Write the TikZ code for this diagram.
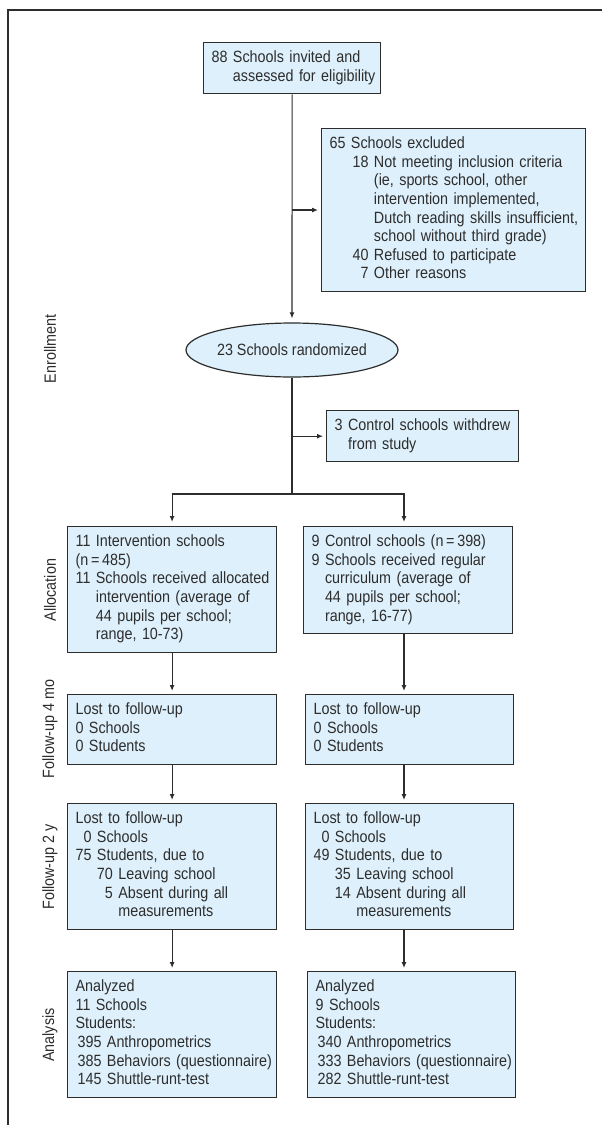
\documentclass[tikz,border=0pt]{standalone}
\usepackage{fontspec}
\setmainfont{Liberation Sans}[FakeStretch=0.88]
\usetikzlibrary{shapes.geometric,arrows.meta}
\definecolor{boxfill}{RGB}{222,240,251}
\definecolor{ink}{RGB}{45,45,45}
\tikzset{
    box/.style={draw=ink, fill=boxfill, line width=1.2pt, anchor=north west, inner xsep=8pt, inner ysep=7pt, align=left, text=ink},
    oval/.style={ellipse, draw=ink, fill=boxfill, line width=1.2pt, minimum width=185pt, minimum height=54pt, inner sep=0pt, text=ink},
    phase/.style={rotate=90, text=ink},
    link/.style={draw=ink, line width=1.1pt},
    arr/.style={link, -{Latex[length=6pt,width=5pt]}, shorten >=3pt},
}
\begin{document}
\begin{tikzpicture}[x=1pt, y=-1pt, font=\fontsize{16.3}{18.6}\selectfont]
        \useasboundingbox (0,0) rectangle (602,1125);
        \draw[ink, line width=1.4pt] (8,1125) -- (8,10) -- (602,10);

        % phases
        \node[phase] (enrol) at (50,349) {Enrollment};
        \node[phase] (alloc) at (50,590) {Allocation};
        \node[phase] (fourmo) at (50,729) {Follow-up 4 mo};
        \node[phase] (twoy) at (50,867) {Follow-up 2 y};
        \node[phase] (analysis) at (50,1035) {Analysis};

        % enrollment
        \node[box, text width=161pt] (invited) at (203,42) {\begin{tabular}{@{}r@{\ }l@{}}
            88 & Schools invited and\\
               & assessed for eligibility
        \end{tabular}};
        \node[box, text width=248pt] (excluded) at (321,128) {\begin{tabular}{@{}l@{}r@{\ }l@{}}
            \multicolumn{3}{@{}l@{}}{65 Schools excluded}\\
            \hspace*{23pt} & 18 & Not meeting inclusion criteria\\
                           &    & (ie, sports school, other\\
                           &    & intervention implemented,\\
                           &    & Dutch reading skills insufficient,\\
                           &    & school without third grade)\\
                           & 40 & Refused to participate\\
                           & 7  & Other reasons
        \end{tabular}};
        \node[oval] (randomized) at (292,350) {23 Schools randomized};
        \node[box, text width=176pt] (withdrew) at (326,410) {\begin{tabular}{@{}r@{\ }l@{}}
            3 & Control schools withdrew\\
              & from study
        \end{tabular}};
        \coordinate (split) at (292,494);
        \coordinate (colC) at (404,0);

        % allocation
        \node[box, text width=193pt] (allocI) at (67,526) {\begin{tabular}{@{}r@{\ }l@{}}
            11 & Intervention schools\\
            \multicolumn{2}{@{}l@{}}{(n\,=\,485)}\\
            11 & Schools received allocated\\
               & intervention (average of\\
               & 44 pupils per school;\\
               & range, 10-73)
        \end{tabular}};
        \node[box, text width=193pt] (allocC) at (303,526) {\begin{tabular}{@{}r@{\ }l@{}}
            9 & Control schools (n\,=\,398)\\
            9 & Schools received regular\\
              & curriculum (average of\\
              & 44 pupils per school;\\
              & range, 16-77)
        \end{tabular}};

        % follow-up 4 mo
        \node[box, text width=193pt] (fourI) at (67,694) {\begin{tabular}{@{}l@{}}
            Lost to follow-up\\ 0 Schools\\ 0 Students
        \end{tabular}};
        \node[box, text width=192pt] (fourC) at (305,694) {\begin{tabular}{@{}l@{}}
            Lost to follow-up\\ 0 Schools\\ 0 Students
        \end{tabular}};

        % follow-up 2 y
        \node[box, text width=193pt] (twoI) at (67,803) {\begin{tabular}{@{}r@{\ }r@{\ }l@{}}
            \multicolumn{3}{@{}l@{}}{Lost to follow-up}\\
            0  & \multicolumn{2}{@{}l@{}}{Schools}\\
            75 & \multicolumn{2}{@{}l@{}}{Students, due to}\\
               & 70 & Leaving school\\
               & 5  & Absent during all\\
               &    & measurements
        \end{tabular}};
        \node[box, text width=192pt] (twoC) at (305,803) {\begin{tabular}{@{}r@{\ }r@{\ }l@{}}
            \multicolumn{3}{@{}l@{}}{Lost to follow-up}\\
            0  & \multicolumn{2}{@{}l@{}}{Schools}\\
            49 & \multicolumn{2}{@{}l@{}}{Students, due to}\\
               & 35 & Leaving school\\
               & 14 & Absent during all\\
               &    & measurements
        \end{tabular}};

        % analysis
        \node[box, text width=193pt] (anaI) at (67,971) {\begin{tabular}{@{}l@{}}
            Analyzed\\ 11 Schools\\ Students:\\
            \hspace*{2pt}395 Anthropometrics\\
            \hspace*{2pt}385 Behaviors (questionnaire)\\
            \hspace*{2pt}145 Shuttle-runt-test
        \end{tabular}};
        \node[box, text width=192pt] (anaC) at (307,971) {\begin{tabular}{@{}l@{}}
            Analyzed\\ 9 Schools\\ Students:\\
            \hspace*{2pt}340 Anthropometrics\\
            \hspace*{2pt}333 Behaviors (questionnaire)\\
            \hspace*{2pt}282 Shuttle-runt-test
        \end{tabular}};

        % connectors
        \draw[arr, shorten >=4pt] (invited.south) -- (randomized.north);
        \draw[arr] (invited.south |- excluded.west) -- (excluded.west);
        \draw[link] (randomized.south) -- (split);
        \draw[arr] (randomized.south |- withdrew.west) -- (withdrew.west);
        \draw[arr, shorten >=4pt] (split) -| (allocI.north);
        \draw[arr, shorten >=4pt] (split) -| (colC |- allocC.north);

        \draw[arr] (allocI.south) -- (fourI.north);
        \draw[arr] (colC |- allocC.south) -- (colC |- fourC.north);
        \draw[arr] (fourI.south) -- (twoI.north);
        \draw[arr] (colC |- fourC.south) -- (colC |- twoC.north);
        \draw[arr] (twoI.south) -- (anaI.north);
        \draw[arr] (colC |- twoC.south) -- (colC |- anaC.north);
\end{tikzpicture}
\end{document}
